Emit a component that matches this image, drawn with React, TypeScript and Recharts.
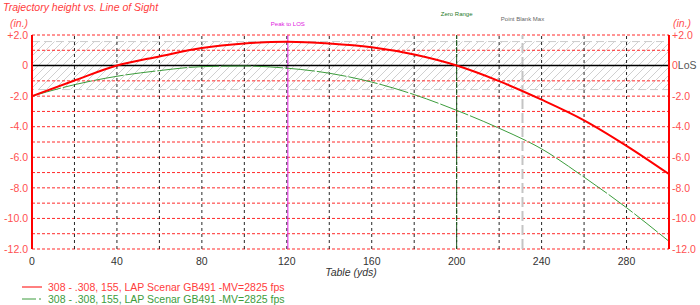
import React from 'react';
import {
  ComposedChart,
  Line,
  XAxis,
  YAxis,
  ReferenceLine,
  ReferenceArea,
} from 'recharts';

// range in yards, drop in inches relative to line of sight
const ranges = [0, 20, 40, 60, 80, 100, 120, 140, 160, 180, 200, 220, 240, 260, 280, 300];
const heightRed = [-2.0, -0.98, 0.0, 0.6, 1.15, 1.45, 1.56, 1.45, 1.2, 0.72, 0.0, -1.02, -2.23, -3.58, -5.25, -7.1];
const heightGreen = [-2.0, -1.25, -0.7, -0.33, -0.07, -0.03, -0.17, -0.5, -1.08, -1.9, -2.93, -4.1, -5.45, -7.3, -9.3, -11.5];
const seriesNames = [
  '308 - .308, 155, LAP Scenar GB491 -MV=2825 fps',
  '308 - .308, 155, LAP Scenar GB491 -MV=2825 fps',
];

const xTicks = [0, 40, 80, 120, 160, 200, 240, 280];
const yTicks = [2, 0, -2, -4, -6, -8, -10, -12];
const xGrid = [20, 40, 60, 80, 100, 120, 140, 160, 180, 200, 220, 240, 260, 280];
const yGrid = [2, 1, -1, -2, -3, -4, -5, -6, -7, -8, -9, -10, -11, -12];

const peakRange = 120.5;
const zeroRange = 200;
const pointBlankMax = 231;
const pbrHalf = 1.57;

const RED = '#ff0000';
const LABEL_RED = '#ff5050';
const GREEN = '#3c9c3c';
const FONT = '"Liberation Sans", Arial, sans-serif';

const data = ranges.map((r, i) => ({ range: r, red: heightRed[i], green: heightGreen[i] }));

const fmt = (v: number) => (v === 0 ? '0' : v > 0 ? `+${v.toFixed(1)}` : v.toFixed(1));

const LeftTick = (props: any) => {
  const { x, y, payload } = props;
  return (
    <text x={x} y={y} dy="0.355em" textAnchor="end" fontSize={10.5} fill={LABEL_RED} fontFamily={FONT}>
      {fmt(payload.value)}
    </text>
  );
};

const RightTick = (props: any) => {
  const { x, y, payload } = props;
  if (payload.value === 0) {
    return (
      <text x={x} y={y} dy="0.355em" textAnchor="start" fontSize={10.5} fontFamily={FONT}>
        <tspan fill={LABEL_RED}>0</tspan>
        <tspan fill="#555">LoS</tspan>
      </text>
    );
  }
  return (
    <text x={x} y={y} dy="0.355em" textAnchor="start" fontSize={10.5} fill={LABEL_RED} fontFamily={FONT}>
      {fmt(payload.value)}
    </text>
  );
};

const App = () => {
  return (
    <div
      style={{
        position: 'absolute',
        left: 0,
        top: 0,
        width: 700,
        height: 305,
        background: '#fff',
        fontFamily: FONT,
      }}
    >
      <ComposedChart
        width={700}
        height={305}
        data={data}
        margin={{ top: 35, right: 0, left: 0, bottom: 36 }}
      >
        <defs>
          <pattern id="hatch" patternUnits="userSpaceOnUse" width={8} height={8}>
            <path d="M-2,2 L2,-2 M0,8 L8,0 M6,10 L10,6" stroke="#d0d0d0" strokeWidth={1} />
          </pattern>
        </defs>
        <XAxis
          dataKey="range"
          type="number"
          domain={[0, 300]}
          ticks={xTicks}
          interval={0}
          axisLine={false}
          tickLine={false}
          tickSize={0}
          tickMargin={9}
          height={20}
          tick={{ fill: '#333', fontSize: 10.5, fontFamily: FONT }}
        />
        <YAxis
          yAxisId="left"
          orientation="left"
          width={32}
          domain={[-12, 2]}
          ticks={yTicks}
          interval={0}
          allowDataOverflow
          tickLine={false}
          tickSize={0}
          tickMargin={4}
          axisLine={{ stroke: RED, strokeWidth: 2 }}
          tick={LeftTick}
        />
        <YAxis
          yAxisId="right"
          orientation="right"
          width={31}
          domain={[-12, 2]}
          ticks={yTicks}
          interval={0}
          allowDataOverflow
          tickLine={false}
          tickSize={0}
          tickMargin={3}
          axisLine={{ stroke: RED, strokeWidth: 2 }}
          tick={RightTick}
        />
        <ReferenceArea
          yAxisId="left"
          x1={0}
          x2={300}
          y1={-pbrHalf}
          y2={pbrHalf}
          fill="url(#hatch)"
          fillOpacity={1}
          stroke="#cccccc"
          strokeDasharray="8 4"
        />
        {yGrid.map((v) => (
          <ReferenceLine
            key={'h' + v}
            yAxisId="left"
            y={v}
            stroke="#ff2a2a"
            strokeDasharray="3 2"
            strokeWidth={1}
          />
        ))}
        {xGrid.map((v) => (
          <ReferenceLine
            key={'v' + v}
            yAxisId="left"
            x={v}
            stroke="#000"
            strokeOpacity={0.85}
            strokeDasharray="3 3"
            strokeWidth={1}
          />
        ))}
        <ReferenceLine
          yAxisId="left"
          x={peakRange}
          stroke="#e020e0"
          strokeWidth={1}
          label={{ value: 'Peak to LOS', position: 'top', offset: 9, fill: '#e020e0', fontSize: 6, fontFamily: FONT }}
        />
        <ReferenceLine
          yAxisId="left"
          x={zeroRange}
          stroke="#1a5a1a"
          strokeDasharray="6 1"
          strokeWidth={1}
          label={{ value: 'Zero Range', position: 'top', offset: 19, fill: '#1f7a1f', fontSize: 6, fontFamily: FONT }}
        />
        <ReferenceLine
          yAxisId="left"
          x={pointBlankMax}
          stroke="#c4c4c4"
          strokeDasharray="10 4"
          strokeWidth={2}
          label={{ value: 'Point Blank Max', position: 'top', offset: 14, fill: '#666', fontSize: 6, fontFamily: FONT }}
        />
        <ReferenceLine yAxisId="left" y={0} stroke="#000" strokeWidth={1.5} />
        <Line
          yAxisId="left"
          type="monotone"
          dataKey="green"
          name={seriesNames[1]}
          stroke={GREEN}
          strokeWidth={1}
          strokeDasharray="30 2"
          dot={false}
          isAnimationActive={false}
        />
        <Line
          yAxisId="left"
          type="monotone"
          dataKey="red"
          name={seriesNames[0]}
          stroke={RED}
          strokeWidth={2}
          dot={false}
          isAnimationActive={false}
        />
      </ComposedChart>

      <div style={{ position: 'absolute', left: 3, top: 1, lineHeight: '12px', fontSize: 10.5, fontStyle: 'italic', color: '#ff3c3c' }}>
        Trajectory height vs. Line of Sight
      </div>
      <div style={{ position: 'absolute', left: 10, top: 18, lineHeight: '11px', fontSize: 10.5, fontStyle: 'italic', color: LABEL_RED }}>
        (in.)
      </div>
      <div style={{ position: 'absolute', left: 673, top: 18, lineHeight: '11px', fontSize: 10.5, fontStyle: 'italic', color: LABEL_RED }}>
        (in.)
      </div>
      <div
        style={{
          position: 'absolute',
          left: 300,
          width: 102,
          textAlign: 'center',
          top: 266,
          lineHeight: '12px',
          fontSize: 10.5,
          fontStyle: 'italic',
          color: '#333',
        }}
      >
        Table (yds)
      </div>

      {seriesNames.map((name, i) => (
        <div
          key={i}
          style={{
            position: 'absolute',
            left: 22,
            top: 281 + i * 11.5,
            height: 12,
            display: 'flex',
            alignItems: 'center',
            fontSize: 10.5,
            color: i === 0 ? '#ff3c3c' : '#3c9c3c',
            whiteSpace: 'nowrap',
          }}
        >
          <svg width={25} height={4} style={{ marginRight: 1 }}>
            <line
              x1={0}
              y1={2}
              x2={20}
              y2={2}
              stroke={i === 0 ? RED : GREEN}
              strokeWidth={1}
              strokeDasharray={i === 0 ? undefined : '14 3 2 3'}
            />
          </svg>
          {name}
        </div>
      ))}
    </div>
  );
};

export default App;
